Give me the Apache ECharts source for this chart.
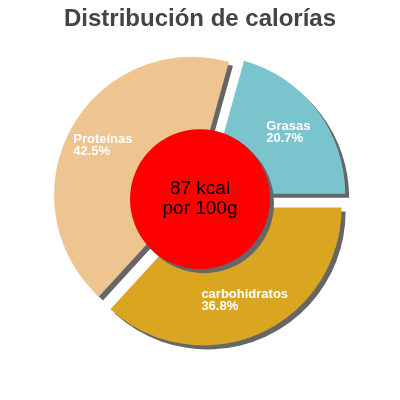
<!DOCTYPE html>
<html>
<head>
<meta charset="utf-8">
<script src="https://cdn.jsdelivr.net/npm/echarts@6/dist/echarts.min.js"></script>
<style>
  html, body { margin: 0; padding: 0; background: #fff; }
  #chart { width: 400px; height: 400px; }
</style>
</head>
<body>
<div id="chart"></div>
<script>
// datos del gráfico
const titleText = 'Distribución de calorías';
const categories = ['Grasas', 'Proteínas', 'carbohidratos'];
const percents = [20.7, 42.5, 36.8];
const sliceColors = ['#7AC5CD', '#EEC591', '#DAA520'];
const centerLines = ['87 kcal', 'por 100g'];

const FONT = '"Liberation Sans", Arial, sans-serif';
const CENTER = ['50%', '49.8%'];
const OFFSET = 9;

const shadow = {
  shadowColor: '#666666',
  shadowBlur: 0,
  shadowOffsetX: 4,
  shadowOffsetY: 4
};

const sliceData = categories.map((name, i) => ({
  name: name,
  value: percents[i],
  selected: true,
  itemStyle: { color: sliceColors[i], ...shadow }
}));

// misma serie, transparente, solo para colocar las etiquetas
const labelData = categories.map((name, i) => ({
  name: name,
  value: percents[i],
  selected: true
}));

const chart = echarts.init(document.getElementById('chart'), null, { renderer: 'canvas' });

chart.setOption({
  animation: false,
  title: {
    text: titleText,
    left: 'center',
    top: 2,
    textStyle: { fontFamily: FONT, fontSize: 24, fontWeight: 'bold', color: '#444444' }
  },
  series: [
    {
      type: 'pie',
      z: 1,
      center: CENTER,
      radius: [0, 138],
      clockwise: false,
      startAngle: 0,
      selectedMode: 'multiple',
      selectedOffset: OFFSET,
      silent: true,
      label: { show: false },
      labelLine: { show: false },
      select: { itemStyle: { borderWidth: 0 } },
      data: sliceData
    },
    {
      type: 'pie',
      z: 2,
      center: CENTER,
      radius: [0, 70],
      silent: true,
      itemStyle: { color: '#FF0000', ...shadow },
      label: {
        show: true,
        position: 'center',
        formatter: centerLines.join('\n'),
        fontFamily: FONT,
        fontSize: 19,
        lineHeight: 20,
        color: '#000000'
      },
      labelLine: { show: false },
      data: [{ value: 1, name: 'kcal' }]
    },
    {
      type: 'pie',
      z: 3,
      center: CENTER,
      radius: [60, 138],
      clockwise: false,
      startAngle: 0,
      selectedMode: 'multiple',
      selectedOffset: OFFSET,
      silent: true,
      avoidLabelOverlap: false,
      itemStyle: { color: 'rgba(0,0,0,0)' },
      select: { itemStyle: { color: 'rgba(0,0,0,0)', borderWidth: 0 } },
      label: {
        show: true,
        position: 'inside',
        formatter: p => '{a|' + p.name + '}\n{a|' + p.value.toFixed(1) + '%}',
        rich: {
          a: {
            align: 'left',
            fontFamily: FONT,
            fontSize: 13,
            fontWeight: 'bold',
            lineHeight: 12,
            color: '#ffffff'
          }
        }
      },
      labelLine: { show: false },
      data: labelData
    }
  ]
});
</script>
</body>
</html>
